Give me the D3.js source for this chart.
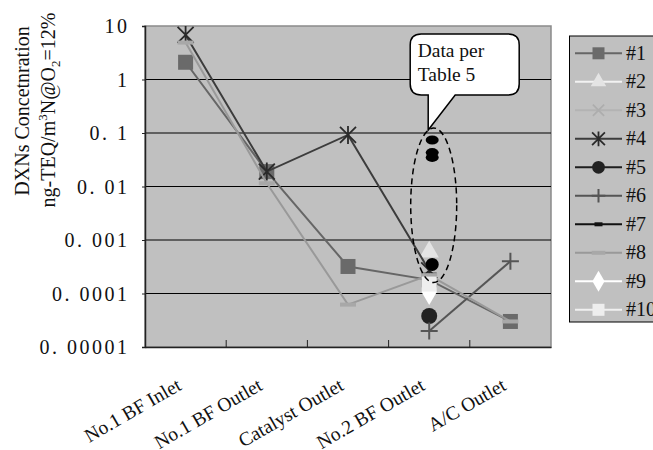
<!DOCTYPE html>
<html>
<head>
<meta charset="utf-8">
<script src="https://cdn.jsdelivr.net/npm/d3@7"></script>
<style>
  html, body { margin: 0; padding: 0; background: #fff; overflow: hidden; }
  svg { display: block; font-family: "Liberation Serif", "DejaVu Serif", serif; }
</style>
</head>
<body>
<div id="chart"></div>
<script>
const categories = ["No.1 BF Inlet", "No.1 BF Outlet", "Catalyst Outlet", "No.2 BF Outlet", "A/C Outlet"];
const yTicks = [10, 1, 0.1, 0.01, 0.001, 0.0001, 0.00001];
const yTickLabels = ["10", "1", "0. 1", "0. 01", "0. 001", "0. 0001", "0. 00001"];
const seriesNames = ["#1", "#2", "#3", "#4", "#5", "#6", "#7", "#8", "#9", "#10"];

// values per category, null where the run has no point
const s1 = [2.1, 0.019, 0.00032, 0.00018, 0.00003];
const s2 = [null, null, null, 0.0006, null];
const s3 = [null, null, null, null, null];
const s4 = [6.8, 0.019, 0.092, 0.00027, null];
const s5 = [null, null, null, 0.000038, null];
const s6 = [null, null, null, 0.00002, 0.0004];
const s7 = [null, null, null, null, null];
const s8 = [4.9, 0.0115, 0.000062, 0.00022, 0.00003];
const s9 = [null, null, null, 0.000107, null];
const s10 = [null, null, null, 0.00015, null];
const seriesValues = [s1, s2, s3, s4, s5, s6, s7, s8, s9, s10];

// points taken from Table 5 (No.2 BF Outlet)
const table5Values = [0.074, 0.043, 0.035, 0.00035];
const calloutLines = ["Data per", "Table 5"];

const styles = [
  { line: "#666", marker: "square", fill: "#6a6a6a" },
  { line: "#f2f2f2", marker: "triangle", fill: "#e4e4e4" },
  { line: "#b3b3b3", marker: "x", fill: "#adadad" },
  { line: "#3c3c3c", marker: "asterisk", fill: "#2a2a2a" },
  { line: "#1e1e1e", marker: "circle", fill: "#222" },
  { line: "#555", marker: "plus", fill: "#555" },
  { line: "#111", marker: "dash", fill: "#111" },
  { line: "#999", marker: "bar", fill: "#a8a8a8" },
  { line: "#fff", marker: "diamond", fill: "#fff" },
  { line: "#f0f0f0", marker: "square", fill: "#eee" },
];

const width = 653, height = 450;
const plot = { left: 145, right: 551, top: 26, bottom: 347 };

const svg = d3.select("#chart").append("svg").attr("width", width).attr("height", height);

const x = d3.scaleBand().domain(categories).range([plot.left, plot.right]);
const cx = (c) => x(c) + x.bandwidth() / 2;
const y = d3.scaleLog().domain([0.00001, 10]).range([plot.bottom, plot.top]);

// plot background
svg.append("rect")
  .attr("x", plot.left).attr("y", plot.top)
  .attr("width", plot.right - plot.left).attr("height", plot.bottom - plot.top)
  .attr("fill", "#c0c0c0").attr("stroke", "#8a8a8a").attr("stroke-width", 1.5);

// gridlines
svg.append("g")
  .selectAll("line")
  .data(yTicks.slice(1, -1))
  .enter()
  .append("line")
  .attr("x1", plot.left).attr("x2", plot.right)
  .attr("y1", (d) => y(d)).attr("y2", (d) => y(d))
  .attr("stroke", "#000").attr("stroke-width", 1);

// y axis
const yAxis = svg.append("g")
  .attr("transform", `translate(${plot.left},0)`)
  .call(d3.axisLeft(y).tickValues(yTicks).tickSize(3).tickFormat((d, i) => yTickLabels[i]));
yAxis.select(".domain").attr("stroke", "#222").attr("stroke-width", 1.5);
yAxis.selectAll(".tick line").attr("stroke", "#222");
yAxis.selectAll(".tick text")
  .attr("x", -15.5)
  .attr("dy", "0.33em")
  .style("font-family", "Liberation Serif")
  .style("font-size", "20px")
  .style("letter-spacing", "2.5px")
  .attr("fill", "#111");

// x axis
const xAxis = svg.append("g")
  .attr("transform", `translate(0,${plot.bottom})`)
  .call(d3.axisBottom(x).tickSize(0).tickFormat(""));
xAxis.select(".domain").attr("stroke", "#222").attr("stroke-width", 1.5);
svg.append("g")
  .selectAll("line")
  .data(categories.slice(1))
  .enter()
  .append("line")
  .attr("x1", (d) => x(d)).attr("x2", (d) => x(d))
  .attr("y1", plot.bottom).attr("y2", plot.bottom - 7)
  .attr("stroke", "#222");

svg.append("g")
  .selectAll("text")
  .data(categories)
  .enter()
  .append("text")
  .attr("transform", (d) => `translate(${cx(d) - 3},389) rotate(-30)`)
  .attr("text-anchor", "end")
  .style("font-size", "19.5px")
  .attr("fill", "#111")
  .text((d) => d);

// y title
svg.append("text")
  .attr("transform", "translate(29,111) rotate(-90)")
  .attr("text-anchor", "middle")
  .style("font-size", "20px")
  .attr("fill", "#111")
  .text("DXNs Concetnration");

const t2 = svg.append("text")
  .attr("transform", "translate(55,110) rotate(-90)")
  .attr("text-anchor", "middle")
  .style("font-size", "20px")
  .attr("fill", "#111");
t2.append("tspan").text("ng-TEQ/m");
t2.append("tspan").attr("dy", -8).style("font-size", "13px").text("3");
t2.append("tspan").attr("dy", 8).text("N@O");
t2.append("tspan").attr("dy", 5).style("font-size", "13px").text("2");
t2.append("tspan").attr("dy", -5).text("=12%");

// markers
function drawMarker(g, type, s, fill) {
  if (type === "square") {
    g.append("rect").attr("x", -s / 2).attr("y", -s / 2).attr("width", s).attr("height", s).attr("fill", fill);
  } else if (type === "triangle") {
    g.append("path").attr("d", d3.symbol(d3.symbolTriangle, s * s * 0.5)()).attr("fill", fill);
  } else if (type === "diamond") {
    g.append("path").attr("d", d3.symbol(d3.symbolDiamond, s * s * 0.62)()).attr("fill", fill);
  } else if (type === "circle") {
    g.append("circle").attr("r", s / 2).attr("fill", fill);
  } else if (type === "x") {
    const h = s / 2;
    g.append("path").attr("d", `M${-h},${-h}L${h},${h}M${-h},${h}L${h},${-h}`)
      .attr("stroke", fill).attr("stroke-width", 1.8);
  } else if (type === "asterisk") {
    const h = s / 2;
    g.append("path").attr("d", `M${-h},${-h}L${h},${h}M${-h},${h}L${h},${-h}M0,${-h - 1}L0,${h + 1}`)
      .attr("stroke", fill).attr("stroke-width", 1.8).attr("fill", "none");
  } else if (type === "plus") {
    const h = s / 2;
    g.append("path").attr("d", `M${-h},0L${h},0M0,${-h}L0,${h}`)
      .attr("stroke", fill).attr("stroke-width", 2);
  } else if (type === "dash") {
    g.append("rect").attr("x", -4).attr("y", -2).attr("width", 8).attr("height", 4).attr("fill", fill);
  } else if (type === "bar") {
    g.append("rect").attr("x", -s / 2).attr("y", -2).attr("width", s).attr("height", 4).attr("fill", fill);
  }
}

const markerSize = { square: 15, triangle: 18, diamond: 18, circle: 16, x: 14, asterisk: 16, plus: 17, dash: 8, bar: 16 };

const line = d3.line()
  .defined((d) => d.v != null)
  .x((d) => cx(d.c))
  .y((d) => y(d.v));

seriesValues.forEach((vals, i) => {
  const pts = vals.map((v, j) => ({ c: categories[j], v: v }));
  const st = styles[i];
  const g = svg.append("g");
  g.append("path")
    .datum(pts)
    .attr("d", line)
    .attr("fill", "none")
    .attr("stroke", st.line)
    .attr("stroke-width", 2);
  g.selectAll("g.m")
    .data(pts.filter((p) => p.v != null))
    .enter()
    .append("g")
    .attr("class", "m")
    .attr("transform", (p) => `translate(${cx(p.c)},${y(p.v)})`)
    .each(function () {
      drawMarker(d3.select(this), st.marker, markerSize[st.marker], st.fill);
    });
});

// Table 5 points
svg.append("g")
  .selectAll("ellipse")
  .data(table5Values)
  .enter()
  .append("ellipse")
  .attr("cx", cx("No.2 BF Outlet") + 3)
  .attr("cy", (d) => y(d))
  .attr("rx", 6.5)
  .attr("ry", (d, i) => (i < 3 ? 4.5 : 6.5))
  .attr("fill", "#000");

// dashed ellipse around Table 5 points
const eTop = y(0.124), eBot = y(0.00016);
svg.append("ellipse")
  .attr("cx", cx("No.2 BF Outlet") + 4.5)
  .attr("cy", (eTop + eBot) / 2)
  .attr("rx", 23)
  .attr("ry", (eBot - eTop) / 2)
  .attr("fill", "none")
  .attr("stroke", "#000")
  .attr("stroke-width", 1.5)
  .attr("stroke-dasharray", "6,4");

// callout
const tipX = cx("No.2 BF Outlet") - 1, tipY = eTop + 2;
const bx0 = tipX - 18, bx1 = tipX + 91, by0 = 34, by1 = 95, r = 11;
const callout = d3.path();
callout.moveTo(bx0 + r, by0);
callout.lineTo(bx1 - r, by0);
callout.quadraticCurveTo(bx1, by0, bx1, by0 + r);
callout.lineTo(bx1, by1 - r);
callout.quadraticCurveTo(bx1, by1, bx1 - r, by1);
callout.lineTo(tipX + 27, by1);
callout.lineTo(tipX, tipY);
callout.lineTo(tipX, by1);
callout.lineTo(bx0 + r, by1);
callout.quadraticCurveTo(bx0, by1, bx0, by1 - r);
callout.lineTo(bx0, by0 + r);
callout.quadraticCurveTo(bx0, by0, bx0 + r, by0);
callout.closePath();
svg.append("path")
  .attr("d", callout.toString())
  .attr("fill", "#fff")
  .attr("stroke", "#000")
  .attr("stroke-width", 1.5);
svg.append("g")
  .selectAll("text")
  .data(calloutLines)
  .enter()
  .append("text")
  .attr("x", bx0 + 7.5)
  .attr("y", (d, i) => 57 + i * 23.5)
  .style("font-size", "19.5px")
  .attr("fill", "#111")
  .text((d) => d);

// legend
const legend = svg.append("g");
legend.append("rect")
  .attr("x", 569.5).attr("y", 36).attr("width", 120).attr("height", 286)
  .attr("fill", "#c0c0c0").attr("stroke", "#000").attr("stroke-width", 1);
const item = legend.selectAll("g.item")
  .data(seriesNames)
  .enter()
  .append("g")
  .attr("class", "item")
  .attr("transform", (d, i) => `translate(0,${53.3 + i * 28.5})`);
item.append("line")
  .attr("x1", 575).attr("x2", 622).attr("y1", 0).attr("y2", 0)
  .attr("stroke", (d, i) => styles[i].line)
  .attr("stroke-width", 2);
item.append("g")
  .attr("transform", "translate(598.5,0)")
  .each(function (d, i) {
    const m = styles[i].marker;
    const s = m === "dash" || m === "bar" ? markerSize[m] * 0.85 : markerSize[m] * 0.8;
    drawMarker(d3.select(this), m, s, styles[i].fill);
  });
item.append("text")
  .attr("x", 626)
  .attr("y", 0)
  .attr("dy", "0.33em")
  .style("font-size", "20px")
  .attr("fill", "#111")
  .text((d) => d);
</script>
</body>
</html>
